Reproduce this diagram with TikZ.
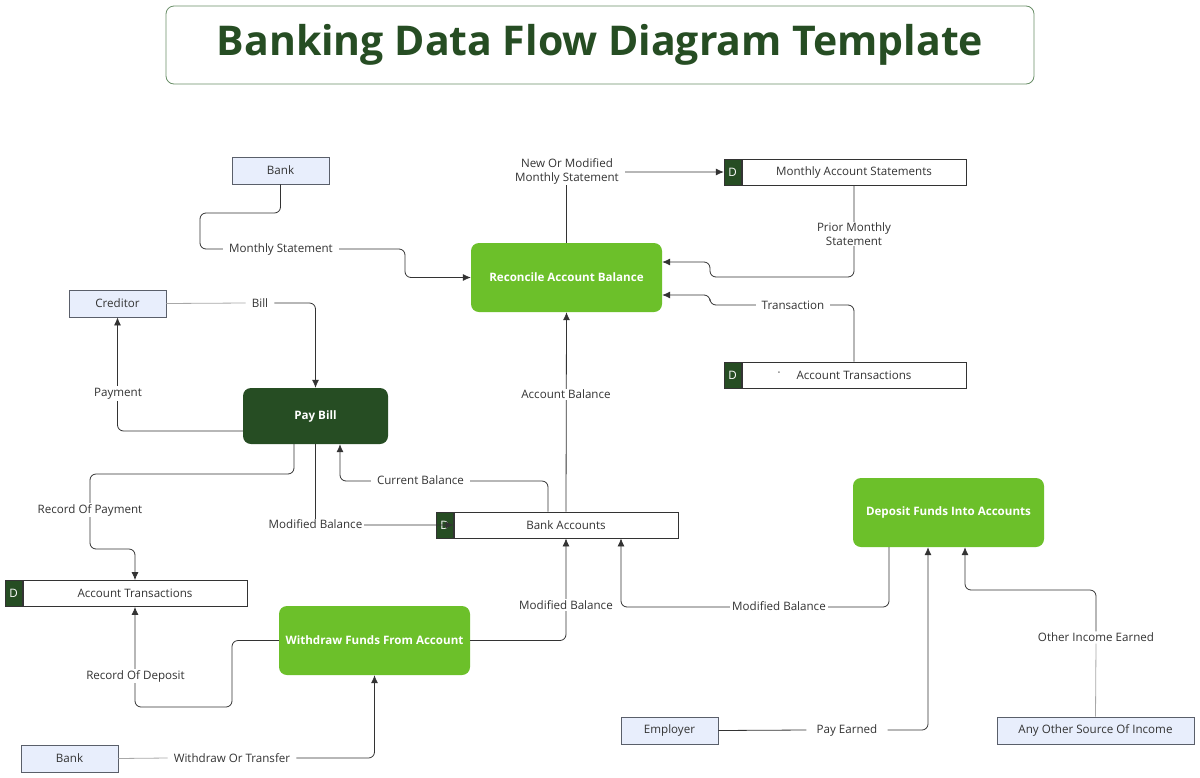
\documentclass[tikz,border=0pt]{standalone}
\usepackage{fontspec}
\setmainfont{Open Sans}
\usetikzlibrary{arrows.meta}
\definecolor{procgreen}{HTML}{6CC02A}
\definecolor{darkgreen}{HTML}{264D23}
\definecolor{entfill}{HTML}{E8EEFC}
\definecolor{entdraw}{HTML}{5A5F6A}
\definecolor{linedark}{HTML}{333333}
\definecolor{linelight}{HTML}{A8A8A8}
\definecolor{txt}{HTML}{333333}
\definecolor{titledraw}{HTML}{6A8F68}
\begin{document}
\begin{tikzpicture}[x=1pt,y=-1pt,
  lbl/.style={font=\fontsize{11.6}{13.8}\selectfont, text=txt, fill=white, inner xsep=6pt, inner ysep=1.5pt, align=center},
  entity/.style={draw=entdraw, line width=0.8pt, fill=entfill, minimum width=97, minimum height=27, inner sep=0pt, font=\fontsize{11.6}{13.8}\selectfont, text=txt},
  proc/.style={fill=procgreen, rounded corners=8pt, inner sep=0pt, text=white, font=\bfseries\fontsize{11.6}{13.8}\selectfont},
  store/.style={draw=linedark, line width=0.8pt, fill=white, minimum width=224, minimum height=26, inner sep=0pt, font=\fontsize{11.6}{13.8}\selectfont, text=txt},
  dbox/.style={draw=linedark, line width=0.8pt, fill=darkgreen, minimum width=17, minimum height=26, inner sep=0pt, text=white, font=\fontsize{11.6}{13.8}\selectfont},
  flow/.style={draw=linedark, line width=0.8pt, rounded corners=6pt, -{Latex[length=8pt,width=7pt]}},
  plain/.style={draw=linedark, line width=0.8pt, rounded corners=6pt},
  lightline/.style={draw=linelight, line width=0.8pt, rounded corners=6pt}
]
\useasboundingbox (0,0) rectangle (1200,777);
\fill[white] (0,0) rectangle (1200,777);

% title
\node[draw=titledraw, line width=0.8pt, rounded corners=8pt, minimum width=868, minimum height=78, inner sep=0pt,
  text=darkgreen, font=\bfseries\fontsize{41}{47}\selectfont] (title) at (600,45) {Banking Data Flow Diagram Template};

% external entities
\node[entity] (bank1) at (280.5,170.5) {Bank};
\node[entity] (cred) at (117.5,303.5) {Creditor};
\node[entity] (bank2) at (69.5,758.5) {Bank};
\node[entity] (emp) at (669.5,730.5) {Employer};
\node[entity, minimum width=197] (oth) at (1095.5,730.5) {Any Other Source Of Income};

% processes
\node[proc, minimum width=191, minimum height=69] (rec) at (566.5,277.5) {Reconcile Account Balance};
\node[proc, fill=darkgreen, minimum width=145, minimum height=56] (pay) at (315.5,416) {Pay Bill};
\node[proc, minimum width=191, minimum height=69] (wd) at (374.5,640.5) {Withdraw Funds From Account};
\node[proc, minimum width=191, minimum height=69] (dep) at (948.5,512.5) {Deposit Funds Into Accounts};

% data stores
\node[store] (mas) at (854,172) {Monthly Account Statements};
\node[dbox, anchor=east] (masD) at (mas.west) {D};
\node[store] (at2) at (854,375) {Account Transactions};
\node[dbox, anchor=east] (at2D) at (at2.west) {D};
\node[font=\fontsize{11}{12}\selectfont, text=txt, inner sep=0pt] (dot) at (779,374) {·};
\node[store] (ba) at (566,525) {Bank Accounts};
\node[dbox, anchor=east] (baD) at (ba.west) {D};
\node[store] (at1) at (135,593.5) {Account Transactions};
\node[dbox, anchor=east] (at1D) at (at1.west) {D};

% connectors
\draw[flow] (bank1.south) |- (200,213) |- (405,249) |- (rec.west);
\node[lbl] (l1) at (281,249) {Monthly Statement};

\draw[flow] (rec.north) |- (masD.west);
\node[lbl, inner ysep=1pt] (l2) at (567,171.5) {New Or Modified\\Monthly Statement};

\draw[flow] (mas.south) |- (710,277) |- ([yshift=15.5pt]rec.east);
\node[lbl, inner ysep=1pt] (l3) at (854,234) {Prior Monthly\\Statement};

\draw[flow] (at2.north) |- (710,305) |- ([yshift=-17.5pt]rec.east);
\node[lbl] (l4) at (793,305) {Transaction};

\draw[flow] (ba.north) -- (rec.south);
\node[lbl] (l5) at (566,394.5) {Account Balance};

\node[lbl] (l6) at (260,303) {Bill};
\draw[lightline] (cred.east) -- (l6.west);
\draw[flow] (l6.east) -| (pay.north);

\draw[flow] ([yshift=-15pt]pay.west) -| (cred.south);
\node[lbl] (l7) at (118,393.5) {Payment};

\draw[flow] ([xshift=-21.5pt]pay.south) |- (90,474) |- (135,549) -- (at1.north);
\node[lbl] (l8) at (90,510) {Record Of Payment};

\draw[flow] ([xshift=-18pt]ba.north) |- (340,481) -- ([xshift=24.5pt]pay.south);
\node[lbl] (l9) at (420.5,480.5) {Current Balance};

\draw[flow] (pay.south) |- (ba.west);
\node[lbl, inner xsep=2pt] (l10) at (315.5,524.5) {Modified Balance};

\draw[flow] (wd.east) -| (ba.south);
\node[lbl, inner xsep=2pt] (l11) at (566,605) {Modified Balance};

\draw[flow] (wd.west) -| (232,707) -| (at1.south);
\node[lbl, inner xsep=2pt] (l12) at (135.5,676) {Record Of Deposit};

\node[lbl] (l13) at (232,758) {Withdraw Or Transfer};
\draw[lightline] (bank2.east) -- (l13.west);
\draw[flow] (l13.east) -| (wd.south);

\draw[flow] ([xshift=-59.5pt]dep.south) |- (621,607) -- ([xshift=55pt]ba.south);
\node[lbl, inner xsep=2pt] (l14) at (779,606) {Modified Balance};

\node[lbl, inner xsep=10pt] (l15) at (847,730) {Pay Earned};
\draw[plain] (emp.east) -- (l15.west);
\draw[flow] (l15.east) -| ([xshift=-20.5pt]dep.south);

\node[lbl] (l16) at (1096,637.5) {Other Income Earned};
\draw[lightline] (oth.north) -- (l16.south);
\draw[flow] (l16.north) |- (965,590) -- ([xshift=16.5pt]dep.south);
\end{tikzpicture}
\end{document}
